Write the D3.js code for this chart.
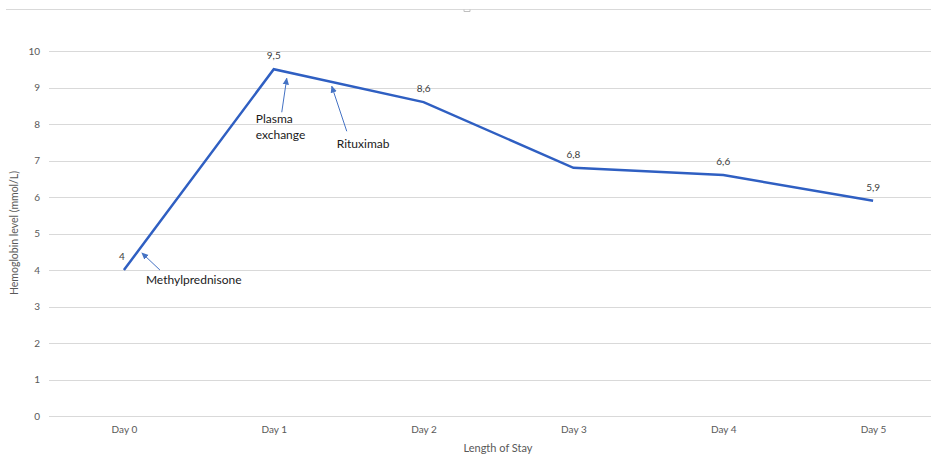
<!DOCTYPE html>
<html><head><meta charset="utf-8">
<script src="https://cdn.jsdelivr.net/npm/d3@7"></script>
<style>body{margin:0;background:#fff;overflow:hidden}svg{display:block;font-family:Lato,"Open Sans",sans-serif}</style>
</head><body><svg id="c" width="931" height="457"></svg>
<script>
const days = ["Day 0","Day 1","Day 2","Day 3","Day 4","Day 5"];
const hemoglobin = [4, 9.5, 8.6, 6.8, 6.6, 5.9];
const valueLabels = ["4","9,5","8,6","6,8","6,6","5,9"];
const yTicks = [0,1,2,3,4,5,6,7,8,9,10];
const annotations = [
  {lines:["Methylprednisone"], day:"Day 0"},
  {lines:["Plasma","exchange"], day:"Day 1"},
  {lines:["Rituximab"], day:"Day 1"}
];

const svg = d3.select("#c");
const x = d3.scalePoint().domain(days).range([49, 948]).padding(0.5);
const y = d3.scaleLinear().domain([0, 10]).range([416, 51]);

// frame top line & handle
svg.append("line").attr("x1",6).attr("x2",931).attr("y1",9.5).attr("y2",9.5).attr("stroke","#d9d9d9");
svg.append("path").attr("d","M464,9.5 L464,11.5 L470,11.5 L470,9.5").attr("fill","none").attr("stroke","#bfbfbf");

// gridlines
svg.append("g").selectAll("line").data(yTicks).join("line")
  .attr("x1",49).attr("x2",948)
  .attr("y1",d=>Math.round(y(d))+0.5).attr("y2",d=>Math.round(y(d))+0.5)
  .attr("stroke","#d9d9d9").attr("stroke-width",1);

// y axis labels
const yAxis = d3.axisLeft(y).tickValues(yTicks).tickSize(0).tickPadding(9).tickFormat(d3.format("d"));
const gy = svg.append("g").attr("transform","translate(49,0)").call(yAxis);
gy.select(".domain").remove();
gy.selectAll("text").attr("fill","#595959").style("font-size","10px").style("font-family","Lato,sans-serif");

// x axis labels
const xAxis = d3.axisBottom(x).tickSize(0).tickPadding(10);
const gx = svg.append("g").attr("transform","translate(0,416)").call(xAxis);
gx.select(".domain").remove();
gx.selectAll("text").attr("fill","#595959").style("font-size","10px").style("font-family","Lato,sans-serif");

// titles
svg.append("text").attr("x",498).attr("y",452).attr("text-anchor","middle").attr("fill","#595959")
  .style("font-size","11px").text("Length of Stay");
svg.append("text").attr("transform","translate(18,233) rotate(-90)").attr("text-anchor","middle").attr("fill","#595959")
  .style("font-size","10.5px").text("Hemoglobin level (mmol/L)");

// line
const pts = days.map((d,i)=>[x(d), y(hemoglobin[i])]);
svg.append("path").attr("d", d3.line()(pts)).attr("fill","none").attr("stroke","#2f5fc2")
  .attr("stroke-width",2.5).attr("stroke-linejoin","miter");

// data labels
svg.append("g").selectAll("text").data(days).join("text")
  .attr("x",(d,i)=>x(d)-(i===0?2:0)).attr("y",(d,i)=>y(hemoglobin[i])-10)
  .attr("text-anchor","middle").attr("fill","#404040").style("font-size","10px")
  .text((d,i)=>valueLabels[i]);

// annotations
const x0 = x("Day 0"), x1 = x("Day 1");
const y0 = y(hemoglobin[0]), y1 = y(hemoglobin[1]);
const arrows = [
  {x1:x0+36, y1:y0, x2:x0+18, y2:y0-17},
  {x1:x1+8, y1:y1+43, x2:x1+13, y2:y1+9},
  {x1:x1+73, y1:y1+62, x2:x1+58, y2:y1+17}
];
const textPos = [
  {x:x0+22, y:y0+14},
  {x:x1-18, y:y1+54},
  {x:x1+63, y:y1+79}
];
svg.append("defs").append("marker").attr("id","ah").attr("viewBox","0 0 10 10")
  .attr("refX",9).attr("refY",5).attr("markerWidth",7).attr("markerHeight",7).attr("orient","auto")
  .attr("markerUnits","userSpaceOnUse")
  .append("path").attr("d","M0,0.5 L10,5 L0,9.5 Z").attr("fill","#4472c4");
svg.append("g").selectAll("line").data(arrows).join("line")
  .attr("x1",d=>d.x1).attr("y1",d=>d.y1).attr("x2",d=>d.x2).attr("y2",d=>d.y2)
  .attr("stroke","#4472c4").attr("stroke-width",1).attr("marker-end","url(#ah)");
annotations.forEach((a,i)=>{
  const t = svg.append("text").attr("fill","#1a1a1a").style("font-size","12px");
  a.lines.forEach((l,j)=>t.append("tspan").attr("x",textPos[i].x).attr("y",textPos[i].y+j*16).text(l));
});
</script></body></html>
